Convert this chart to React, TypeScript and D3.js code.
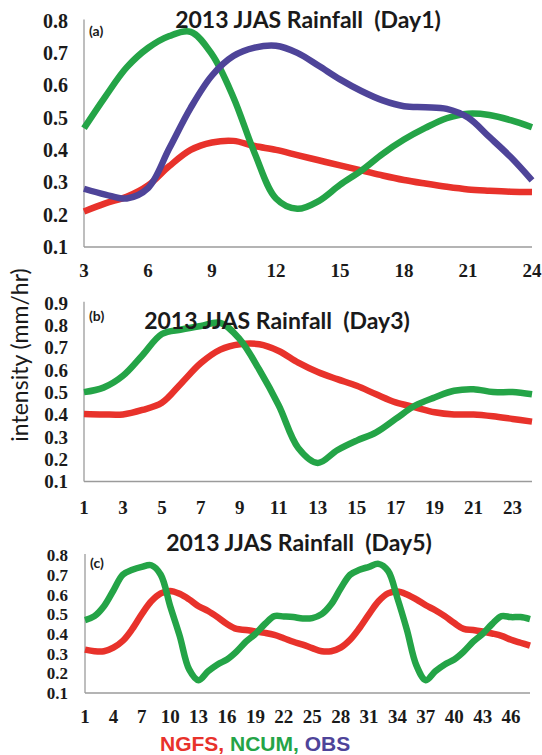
import React, { useEffect, useRef } from "react";
import * as d3 from "d3";

// hours on the x axis
const day1Hours = [3, 4, 5, 6, 7, 8, 9, 10, 11, 12, 13, 14, 15, 16, 17, 18, 19, 20, 21, 22, 23, 24];
const day3Hours = [1, 2, 3, 4, 5, 6, 7, 8, 9, 10, 11, 12, 13, 14, 15, 16, 17, 18, 19, 20, 21, 22, 23, 24];
const day5Hours = [
  1, 2, 3, 4, 5, 6, 7, 8, 9, 10, 11, 12, 13, 14, 15, 16, 17, 18, 19, 20, 21, 22, 23, 24,
  25, 26, 27, 28, 29, 30, 31, 32, 33, 34, 35, 36, 37, 38, 39, 40, 41, 42, 43, 44, 45, 46, 47, 48,
];

// tick labels
const day1XTicks = [3, 6, 9, 12, 15, 18, 21, 24];
const day3XTicks = [1, 3, 5, 7, 9, 11, 13, 15, 17, 19, 21, 23];
const day5XTicks = [1, 4, 7, 10, 13, 16, 19, 22, 25, 28, 31, 34, 37, 40, 43, 46];
const day1YTicks = [0.1, 0.2, 0.3, 0.4, 0.5, 0.6, 0.7, 0.8];
const day3YTicks = [0.1, 0.2, 0.3, 0.4, 0.5, 0.6, 0.7, 0.8, 0.9];
const day5YTicks = [0.1, 0.2, 0.3, 0.4, 0.5, 0.6, 0.7, 0.8];

// series values (mm/hr)
const day1NGFS = [0.21, 0.235, 0.255, 0.29, 0.35, 0.4, 0.423, 0.428, 0.412, 0.4, 0.384, 0.368, 0.352, 0.337, 0.321, 0.307, 0.296, 0.286, 0.278, 0.274, 0.271, 0.27];
const day1NCUM = [0.467, 0.565, 0.655, 0.715, 0.752, 0.765, 0.695, 0.563, 0.39, 0.25, 0.218, 0.242, 0.292, 0.336, 0.388, 0.432, 0.468, 0.498, 0.512, 0.508, 0.492, 0.47];
const day1OBS = [0.28, 0.262, 0.25, 0.282, 0.405, 0.53, 0.63, 0.69, 0.716, 0.722, 0.7, 0.66, 0.618, 0.582, 0.553, 0.535, 0.532, 0.527, 0.5, 0.44, 0.378, 0.306];

const day3NGFS = [0.402, 0.4, 0.4, 0.42, 0.452, 0.54, 0.63, 0.69, 0.714, 0.714, 0.684, 0.632, 0.59, 0.558, 0.528, 0.49, 0.454, 0.432, 0.41, 0.4, 0.4, 0.392, 0.38, 0.368];
const day3NCUM = [0.5, 0.52, 0.573, 0.665, 0.76, 0.78, 0.796, 0.81, 0.736, 0.6, 0.44, 0.25, 0.183, 0.24, 0.283, 0.32, 0.38, 0.44, 0.476, 0.506, 0.513, 0.5, 0.5, 0.49];

const day5NGFS = [
  0.32, 0.312, 0.312, 0.33, 0.365, 0.425, 0.5, 0.565, 0.605, 0.618, 0.603, 0.575, 0.54, 0.516, 0.485, 0.45,
  0.425, 0.42, 0.412, 0.405, 0.395, 0.378, 0.36, 0.345, 0.328, 0.312, 0.312, 0.33, 0.37, 0.43, 0.5, 0.565,
  0.605, 0.615, 0.6, 0.575, 0.545, 0.52, 0.49, 0.455, 0.425, 0.42, 0.412, 0.402, 0.39, 0.37, 0.355, 0.34,
];
const day5NCUM = [
  0.47, 0.49, 0.54, 0.62, 0.7, 0.725, 0.74, 0.748, 0.7, 0.54, 0.39, 0.22, 0.165, 0.21, 0.245, 0.27,
  0.31, 0.36, 0.4, 0.45, 0.49, 0.488, 0.485, 0.478, 0.48, 0.5, 0.55, 0.63, 0.7, 0.725, 0.74, 0.755,
  0.72, 0.58, 0.42, 0.24, 0.165, 0.21, 0.245, 0.27, 0.31, 0.36, 0.4, 0.45, 0.49, 0.485, 0.485, 0.475,
];

const RED = "#e8322b";
const GREEN = "#24a447";
const PURPLE = "#4e4499";

const width = 542;
const height = 755;

const panels = [
  {
    tag: "(a)",
    title: "2013 JJAS Rainfall  (Day1)",
    hours: day1Hours,
    xTicks: day1XTicks,
    yTicks: day1YTicks,
    series: [
      { values: day1NGFS, color: RED },
      { values: day1NCUM, color: GREEN },
      { values: day1OBS, color: PURPLE },
    ],
    x: [84, 532],
    y: [247, 20.5],
    yMax: 0.8,
    yFont: 20,
    titleX: 308,
    titleY: 28,
    tagY: 36,
    xLabelY: 277,
  },
  {
    tag: "(b)",
    title: "2013 JJAS Rainfall  (Day3)",
    hours: day3Hours,
    xTicks: day3XTicks,
    yTicks: day3YTicks,
    series: [
      { values: day3NGFS, color: RED },
      { values: day3NCUM, color: GREEN },
    ],
    x: [84, 532],
    y: [481.5, 302.7],
    yMax: 0.9,
    yFont: 19,
    titleX: 277,
    titleY: 329,
    tagY: 321,
    xLabelY: 514,
  },
  {
    tag: "(c)",
    title: "2013 JJAS Rainfall  (Day5)",
    hours: day5Hours,
    xTicks: day5XTicks,
    yTicks: day5YTicks,
    series: [
      { values: day5NGFS, color: RED },
      { values: day5NCUM, color: GREEN },
    ],
    x: [85, 530],
    y: [693, 555],
    yMax: 0.8,
    yFont: 17,
    titleX: 299,
    titleY: 551,
    tagY: 568,
    xLabelY: 723,
  },
];

export default function App() {
  const ref = useRef<SVGSVGElement>(null);

  useEffect(() => {
    const svg = d3.select(ref.current);
    svg.selectAll("*").remove();

    for (const p of panels) {
      const xScale = d3
        .scaleLinear()
        .domain([p.hours[0], p.hours[p.hours.length - 1]])
        .range(p.x);
      const yScale = d3.scaleLinear().domain([0.1, p.yMax]).range(p.y);
      const g = svg.append("g");

      // axis lines
      g.append("line")
        .attr("x1", p.x[0])
        .attr("x2", p.x[0])
        .attr("y1", yScale(p.yMax) - 1)
        .attr("y2", yScale(0.1))
        .attr("stroke", "#9b9b9b")
        .attr("stroke-width", 1.3);
      g.append("line")
        .attr("x1", p.x[0])
        .attr("x2", p.x[1])
        .attr("y1", yScale(0.1))
        .attr("y2", yScale(0.1))
        .attr("stroke", "#9b9b9b")
        .attr("stroke-width", 1.3);

      g.selectAll(".ytick")
        .data(p.yTicks)
        .enter()
        .append("text")
        .attr("x", 68)
        .attr("y", (d) => yScale(d))
        .attr("dy", "0.36em")
        .attr("text-anchor", "end")
        .style("font-family", "'Liberation Serif', 'Times New Roman', serif")
        .style("font-weight", "bold")
        .style("font-size", `${p.yFont}px`)
        .attr("fill", "#1a1a1a")
        .text((d) => d3.format(".1f")(d));

      g.selectAll(".xtick")
        .data(p.xTicks)
        .enter()
        .append("text")
        .attr("x", (d) => xScale(d))
        .attr("y", p.xLabelY)
        .attr("text-anchor", "middle")
        .style("font-family", "'Liberation Serif', 'Times New Roman', serif")
        .style("font-weight", "bold")
        .style("font-size", "19px")
        .attr("fill", "#1a1a1a")
        .text((d) => d);

      const line = d3
        .line<number>()
        .x((_, i) => xScale(p.hours[i]))
        .y((d) => yScale(d))
        .curve(d3.curveCatmullRom.alpha(0.5));

      for (const s of p.series) {
        g.append("path")
          .attr("d", line(s.values))
          .attr("fill", "none")
          .attr("stroke", s.color)
          .attr("stroke-width", 6.5)
          .attr("stroke-linejoin", "round")
          .attr("stroke-linecap", "butt");
      }

      g.append("text")
        .attr("x", p.x[0] + 5)
        .attr("y", p.tagY)
        .style("font-family", "Lato, 'Open Sans', sans-serif")
        .style("font-weight", "bold")
        .style("font-size", "14px")
        .attr("fill", "#1a1a1a")
        .text(p.tag);

      g.append("text")
        .attr("x", p.titleX)
        .attr("y", p.titleY)
        .attr("text-anchor", "middle")
        .style("white-space", "pre")
        .style("font-family", "Lato, 'Open Sans', sans-serif")
        .style("font-weight", "bold")
        .style("font-size", "23px")
        .attr("fill", "#1a1a1a")
        .text(p.title);
    }

    svg
      .append("text")
      .attr("transform", "translate(28, 355) rotate(-90)")
      .attr("text-anchor", "middle")
      .style("font-family", "Lato, 'Open Sans', sans-serif")
      .style("font-size", "23px")
      .attr("fill", "#1a1a1a")
      .text("intensity (mm/hr)");

    const legend = svg
      .append("text")
      .attr("x", 160)
      .attr("y", 751)
      .style("font-family", "'Liberation Sans', Arial, sans-serif")
      .style("font-weight", "bold")
      .style("font-size", "21px");
    legend.append("tspan").attr("fill", RED).text("NGFS, ");
    legend.append("tspan").attr("fill", GREEN).text("NCUM, ");
    legend.append("tspan").attr("fill", PURPLE).text("OBS");
  }, []);

  return (
    <svg
      ref={ref}
      width={width}
      height={height}
      style={{ position: "absolute", left: 0, top: 0, background: "#fff" }}
    ></svg>
  );
}
